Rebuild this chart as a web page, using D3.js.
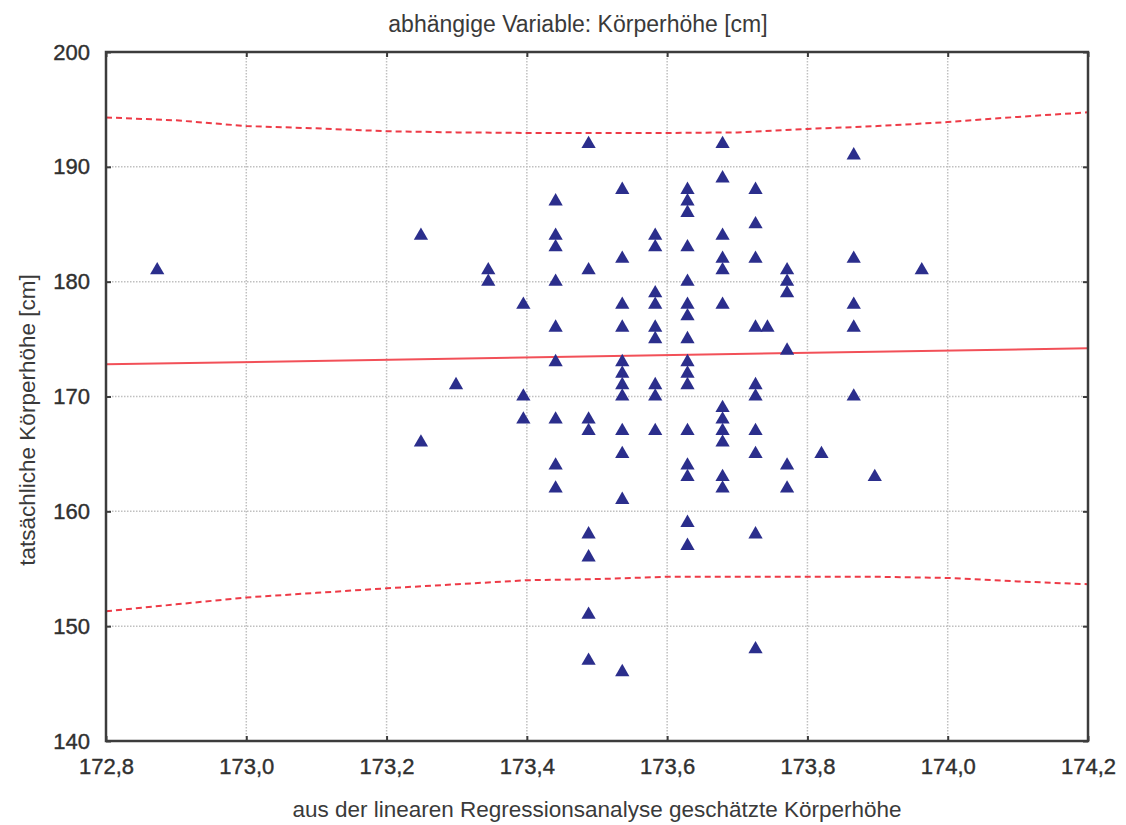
<!DOCTYPE html>
<html>
<head>
<meta charset="utf-8">
<script src="https://cdn.jsdelivr.net/npm/d3@7"></script>
<style>
  body { margin: 0; background: #fff; }
  text { font-family: "Liberation Sans", Arial, sans-serif; }
</style>
</head>
<body>
<svg width="1126" height="825"></svg>
<script>
// predicted height (x) for each column of observations
var predicted = [172.873, 173.249, 173.299, 173.345, 173.395, 173.441, 173.488, 173.536,
                 173.583, 173.629, 173.679, 173.726, 173.743, 173.771, 173.820, 173.866,
                 173.896, 173.963];

// observed heights for each column above
var observed = [
  [181],
  [184, 166],
  [171],
  [181, 180],
  [178, 170, 168],
  [187, 184, 183, 180, 176, 173, 168, 164, 162],
  [192, 181, 168, 167, 158, 156, 151, 147],
  [188, 182, 178, 176, 173, 172, 171, 170, 167, 165, 161, 146],
  [184, 183, 179, 178, 176, 175, 171, 170, 167],
  [188, 187, 186, 183, 180, 178, 177, 175, 173, 172, 171, 167, 164, 163, 159, 157],
  [192, 189, 184, 182, 181, 178, 169, 168, 167, 166, 163, 162],
  [188, 185, 182, 176, 171, 170, 167, 165, 158, 148],
  [176],
  [181, 180, 179, 174, 164, 162],
  [165],
  [191, 182, 178, 176, 170],
  [163],
  [181]
];

// regression line and prediction band
var fitX = [172.8, 174.2];
var fitY = [172.8, 174.2];
var bandX = [172.8, 172.9, 173.0, 173.1, 173.2, 173.3, 173.4, 173.5, 173.6, 173.7, 173.8, 173.9, 174.0, 174.1, 174.2];
var upperBand = [194.3, 194.05, 193.55, 193.35, 193.1, 193.0, 192.95, 192.95, 192.95, 193.0, 193.3, 193.55, 193.9, 194.35, 194.75];
var lowerBand = [151.3, 151.9, 152.5, 152.9, 153.3, 153.65, 154.0, 154.1, 154.3, 154.3, 154.3, 154.3, 154.2, 153.9, 153.65];

var xTicks = [172.8, 173.0, 173.2, 173.4, 173.6, 173.8, 174.0, 174.2];
var yTicks = [140, 150, 160, 170, 180, 190, 200];

var svg = d3.select("svg"),
    margin = {top: 52, right: 38, bottom: 84, left: 106},
    width = +svg.attr("width") - margin.left - margin.right,
    height = +svg.attr("height") - margin.top - margin.bottom,
    g = svg.append("g").attr("transform", "translate(" + margin.left + "," + margin.top + ")");

var x = d3.scaleLinear().domain([172.8, 174.2]).range([0, width]);
var y = d3.scaleLinear().domain([140, 200]).range([height, 0]);
var fmt = function(d) { return d3.format(".1f")(d).replace(".", ","); };

// grid
g.selectAll(".gx").data(xTicks.slice(1, -1)).enter().append("line")
    .attr("x1", x).attr("x2", x).attr("y1", 0).attr("y2", height)
    .style("stroke", "#c0c0c0").style("stroke-width", 1.5).style("stroke-dasharray", "1.5,1.5");
g.selectAll(".gy").data(yTicks.slice(1, -1)).enter().append("line")
    .attr("y1", y).attr("y2", y).attr("x1", 0).attr("x2", width)
    .style("stroke", "#c0c0c0").style("stroke-width", 1.5).style("stroke-dasharray", "1.5,1.5");

// prediction band
var band = d3.line().x(function(d) { return x(d[0]); }).y(function(d) { return y(d[1]); });
[upperBand, lowerBand].forEach(function(b) {
  g.append("path")
      .attr("d", band(bandX.map(function(v, i) { return [v, b[i]]; })))
      .style("fill", "none").style("stroke", "#ee3b47").style("stroke-width", 2)
      .style("stroke-dasharray", "6,4");
});

// regression line
g.append("path")
    .attr("d", band(fitX.map(function(v, i) { return [v, fitY[i]]; })))
    .style("fill", "none").style("stroke", "#f25058").style("stroke-width", 2);

// points
var points = [];
predicted.forEach(function(p, i) {
  observed[i].forEach(function(h) { points.push([p, h]); });
});
g.selectAll(".pt").data(points).enter().append("path")
    .attr("d", d3.symbol().type(d3.symbolTriangle).size(88))
    .attr("transform", function(d) { return "translate(" + x(d[0]) + "," + y(d[1]) + ")"; })
    .style("fill", "#2b2e8c");

// frame and inward ticks
var axisColor = "#3c3c3c";
g.append("rect").attr("width", width).attr("height", height)
    .style("fill", "none").style("stroke", axisColor).style("stroke-width", 2.5);

var xAxis = d3.axisBottom(x).tickValues(xTicks).tickFormat(fmt).tickSizeInner(-5).tickSizeOuter(0).tickPadding(17);
var yAxis = d3.axisLeft(y).tickValues(yTicks).tickSizeInner(-5).tickSizeOuter(0).tickPadding(16);

var gx = g.append("g").attr("transform", "translate(0," + height + ")").call(xAxis);
var gy = g.append("g").call(yAxis);
g.append("g").call(d3.axisTop(x).tickValues(xTicks).tickSizeInner(-5).tickSizeOuter(0).tickFormat(""));
g.append("g").attr("transform", "translate(" + width + ",0)")
    .call(d3.axisRight(y).tickValues(yTicks).tickSizeInner(-5).tickSizeOuter(0).tickFormat(""));

g.selectAll(".domain").remove();
g.selectAll(".tick line").style("stroke", axisColor).style("stroke-width", 2);
g.selectAll(".tick text").style("font-size", "22px").style("fill", "#303030")
    .style("stroke", "#303030").style("stroke-width", 0.4)
    .style("font-family", "'Liberation Sans', Arial, sans-serif");

// titles
svg.append("text").attr("x", 578).attr("y", 32).attr("text-anchor", "middle")
    .style("font-size", "23px").style("fill", "#3a3a3a")
    .text("abhängige Variable: Körperhöhe [cm]");
svg.append("text").attr("x", 597).attr("y", 817).attr("text-anchor", "middle")
    .style("font-size", "22.5px").style("fill", "#3a3a3a")
    .text("aus der linearen Regressionsanalyse geschätzte Körperhöhe");
svg.append("text").attr("transform", "translate(35,420) rotate(-90)").attr("text-anchor", "middle")
    .style("font-size", "22.5px").style("fill", "#3a3a3a")
    .text("tatsächliche Körperhöhe [cm]");
</script>
</body>
</html>
